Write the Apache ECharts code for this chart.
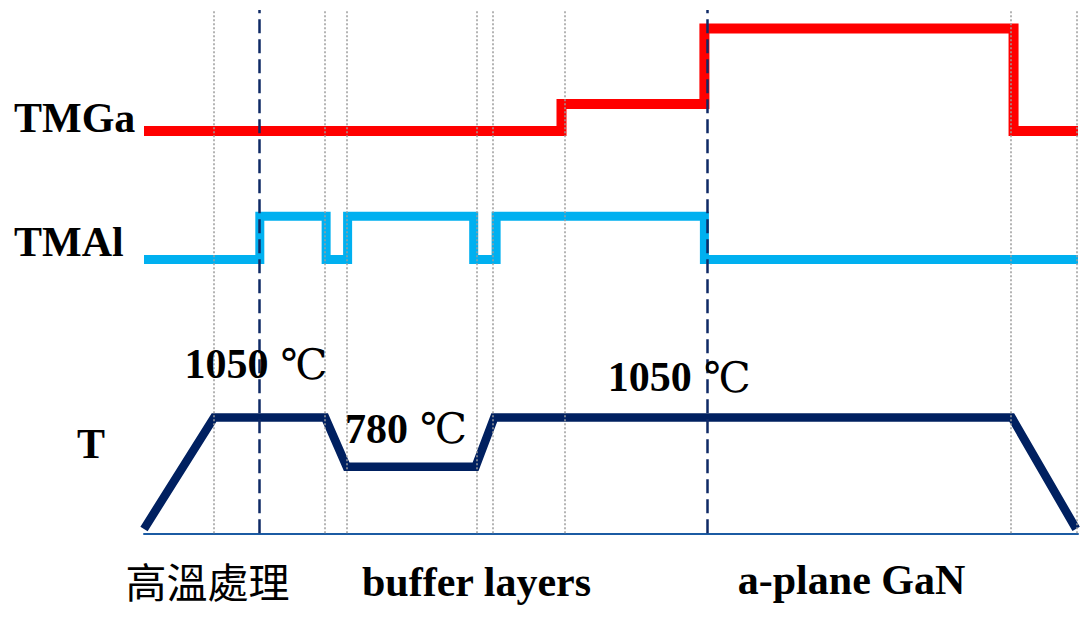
<!DOCTYPE html>
<html>
<head>
<meta charset="utf-8">
<script src="https://cdn.jsdelivr.net/npm/echarts@6/dist/echarts.min.js"></script>
<style>
  html, body { margin: 0; padding: 0; background: #fff; }
  #chart { width: 1080px; height: 617px; }
</style>
</head>
<body>
<div id="chart"></div>
<script>
// Process timeline in arbitrary time units (0 – 100)
const tmgaTime  = [0, 44.7, 60.0, 93.1, 100];
const tmgaFlow  = [0, 1, 3.8, 0, 0];
const tmalTime  = [0, 12.4, 19.5, 21.8, 35.3, 37.7, 60.0, 100];
const tmalFlow  = [0, 1, 0, 1, 0, 1, 0, 0];
const tempTime  = [0, 7.5, 19.4, 21.7, 35.5, 37.5, 92.9, 99.8];
const tempValue = [440, 1050, 1050, 780, 780, 1050, 1050, 440];

// Vertical guides marking process events
const dottedGuides = [7.5, 19.4, 21.7, 35.6, 37.3, 45.0, 92.8, 99.9];
const dashedGuides = [12.3, 60.3];

const traceNames  = ['TMGa', 'TMAl', 'T'];
const phaseNames  = ['高溫處理', 'buffer layers', 'a-plane GaN'];
const phaseCenters = [6.8, 35.6, 75.75];
// plateau temperature annotations: [time, index into tempValue]
const tempNotes = [[12.0, 1], [28.05, 3], [57.3, 5]];

const SERIF = '"Liberation Serif", "Times New Roman", serif';
const DEGREE = '"DejaVu Serif", "Liberation Serif", serif';
const CJK = '"Noto Sans CJK TC", "Noto Sans CJK SC", sans-serif';

const zip = (xs, ys) => xs.map((x, i) => [x, ys[i]]);

const chart = echarts.init(document.getElementById('chart'), null, { renderer: 'svg' });

const hiddenX = i => ({ type: 'value', gridIndex: i, min: 0, max: 100, show: false });
const hiddenY = (i, min, max) => ({ type: 'value', gridIndex: i, min, max, show: false, splitLine: { show: false } });

const option = {
  animation: false,
  backgroundColor: '#ffffff',
  grid: [
    { left: 144, right: 2, top: 10, bottom: 83.7 },        // guide lines
    { left: 144, right: 2, top: 23, bottom: 486 },         // TMGa
    { left: 144, right: 2, top: 216.2, bottom: 357.5 },    // TMAl
    { left: 144, right: 2, top: 408.3, bottom: 83.7 }      // temperature
  ],
  xAxis: [
    hiddenX(0), hiddenX(1), hiddenX(2),
    {
      type: 'value', gridIndex: 3, min: 0, max: 100,
      axisLine: { show: true, onZero: false, lineStyle: { color: '#1b5ba3', width: 2 } },
      axisTick: { show: false }, axisLabel: { show: false }, splitLine: { show: false }
    }
  ],
  yAxis: [
    hiddenY(0, 0, 1), hiddenY(1, 0, 4), hiddenY(2, 0, 1), hiddenY(3, 416, 1100)
  ],
  series: [
    {
      type: 'line', xAxisIndex: 0, yAxisIndex: 0, z: 5,
      data: [[0, 0]], symbol: 'none', lineStyle: { opacity: 0 }, silent: true,
      markLine: {
        silent: true, symbol: ['none', 'none'], label: { show: false },
        data: dottedGuides.map(t => ({ xAxis: t, lineStyle: { type: [2, 2], color: '#9c9c9c', width: 1.5 } }))
          .concat(dashedGuides.map(t => ({ xAxis: t, lineStyle: { type: [14, 6], color: '#0f2a66', width: 2.5 } })))
      }
    },
    {
      name: traceNames[0], type: 'line', xAxisIndex: 1, yAxisIndex: 1, z: 2,
      step: 'end', clip: false, symbol: 'none',
      data: zip(tmgaTime, tmgaFlow),
      lineStyle: { color: '#ff0000', width: 10, join: 'miter', cap: 'butt' }
    },
    {
      name: traceNames[1], type: 'line', xAxisIndex: 2, yAxisIndex: 2, z: 2,
      step: 'end', clip: false, symbol: 'none',
      data: zip(tmalTime, tmalFlow),
      lineStyle: { color: '#00b0f0', width: 9, join: 'miter', cap: 'butt' }
    },
    {
      name: traceNames[2], type: 'line', xAxisIndex: 3, yAxisIndex: 3, z: 2,
      clip: false, symbol: 'none',
      data: zip(tempTime, tempValue),
      lineStyle: { color: '#002060', width: 8.5, join: 'miter', cap: 'butt' },
      markPoint: {
        silent: true, symbol: 'circle', symbolSize: 1, itemStyle: { color: 'rgba(0,0,0,0)' },
        data: tempNotes.map(([t, k], n) => ({
          coord: [t, tempValue[k]], value: tempValue[k],
          label: { offset: [0, [-53, -38, -40][n]] }
        })),
        label: {
          show: true, position: 'inside', align: 'center', verticalAlign: 'middle',
          formatter: p => '{n|' + p.value + '}{c|℃}',
          rich: {
            n: { fontFamily: SERIF, fontWeight: 'bold', fontSize: 42, color: '#000' },
            c: { fontFamily: DEGREE, fontWeight: 'normal', fontSize: 42, color: '#000', padding: [0, 0, 0, 12] }
          }
        }
      }
    }
  ],
  graphic: [
    { type: 'text', x: 14, y: 118, style: { text: traceNames[0], font: 'bold 42px ' + SERIF, fill: '#000', verticalAlign: 'middle' } },
    { type: 'text', x: 14, y: 242, style: { text: traceNames[1], font: 'bold 42px ' + SERIF, fill: '#000', verticalAlign: 'middle' } },
    { type: 'text', x: 77, y: 444, style: { text: traceNames[2], font: 'bold 42px ' + SERIF, fill: '#000', verticalAlign: 'middle' } }
  ]
};

chart.setOption(option);

// Phase names under the time axis, centred on their phase
const phaseY = [580, 582, 580];
chart.setOption({
  graphic: option.graphic.concat(phaseNames.map((name, i) => ({
    type: 'text',
    x: chart.convertToPixel({ xAxisIndex: 3 }, phaseCenters[i]),
    y: phaseY[i],
    style: {
      text: name,
      font: (i === 0 ? 'normal 41px ' + CJK : 'bold 42px ' + SERIF),
      fill: '#000', align: 'center', verticalAlign: 'middle'
    }
  })))
});
</script>
</body>
</html>
